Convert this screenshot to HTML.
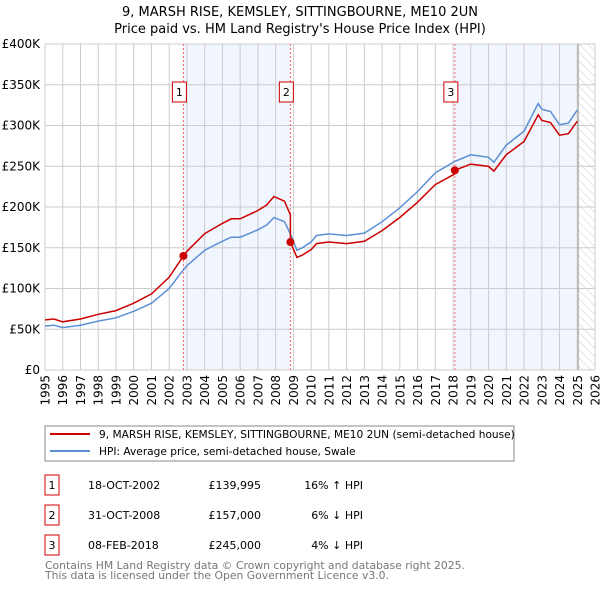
<!DOCTYPE html>
<html><head><meta charset="utf-8"><style>
body{margin:0;background:#fff}
svg text{font-family:"DejaVu Sans","Liberation Sans",sans-serif}
</style></head><body>
<svg id="chart" width="600" height="590" viewBox="0 0 600 590" xmlns="http://www.w3.org/2000/svg">
<defs><pattern id="hatch" width="6" height="6" patternUnits="userSpaceOnUse" patternTransform="rotate(-45)"><line x1="0" y1="0" x2="0" y2="6" stroke="#ccc" stroke-width="1"/></pattern></defs>
<text x="300" y="16" text-anchor="middle" font-size="13">9, MARSH RISE, KEMSLEY, SITTINGBOURNE, ME10 2UN</text>
<text x="300" y="33" text-anchor="middle" font-size="13">Price paid vs. HM Land Registry's House Price Index (HPI)</text>
<g id="plot"></g>
<rect x="45" y="426" width="469" height="35" fill="#fff" stroke="#888"/>
<line x1="50" y1="434" x2="90" y2="434" stroke="#cc0000" stroke-width="2"/>
<text x="99" y="438" font-size="10.6">9, MARSH RISE, KEMSLEY, SITTINGBOURNE, ME10 2UN (semi-detached house)</text>
<line x1="50" y1="451" x2="90" y2="451" stroke="#5b8fd6" stroke-width="2"/>
<text x="99" y="455" font-size="10.6">HPI: Average price, semi-detached house, Swale</text>
<g id="table" font-size="11"></g>
<text x="45" y="569" font-size="10.8" fill="#777">Contains HM Land Registry data © Crown copyright and database right 2025.</text>
<text x="45" y="579" font-size="10.8" fill="#777">This data is licensed under the Open Government Licence v3.0.</text>
</svg>
<script>
const hpiYears=[1995,1995.5,1996,1997,1998,1999,2000,2001,2002,2002.8,2003,2004,2005,2005.5,2006,2007,2007.5,2007.9,2008.5,2008.83,2009.2,2009.5,2010,2010.3,2011,2012,2013,2014,2015,2016,2017,2018.1,2019,2020,2020.3,2021,2022,2022.8,2023,2023.5,2024,2024.5,2025];
const hpiValues=[54000,55000,52000,55000,60000,64000,72000,82000,100000,123000,128000,147000,158000,163000,163000,172000,178000,187000,182000,167000,147000,150000,157000,165000,167000,165000,168000,182000,199000,219000,242000,256000,264000,261000,255000,276000,293000,327000,320000,317000,301000,303000,319000];
const saleDates=[2002.8,2008.83,2018.1];
const salePrices=[139995,157000,245000];
const saleLabels=["1","2","3"];
const saleDateText=["18-OCT-2002","31-OCT-2008","08-FEB-2018"];
const saleDiffText=["16% \u2191 HPI","6% \u2193 HPI","4% \u2193 HPI"];
const yTicks=[0,50000,100000,150000,200000,250000,300000,350000,400000];
const yTickLabels=["£0","£50K","£100K","£150K","£200K","£250K","£300K","£350K","£400K"];
const xTicks=[1995,1996,1997,1998,1999,2000,2001,2002,2003,2004,2005,2006,2007,2008,2009,2010,2011,2012,2013,2014,2015,2016,2017,2018,2019,2020,2021,2022,2023,2024,2025,2026];
const dataEnd=2025.05;

const NS="http://www.w3.org/2000/svg";
const L=45,R=595,T=44,B=370;
const xs=t=>L+(t-1995)/(2026-1995)*(R-L);
const ys=v=>B-v/400000*(B-T);
function mk(tag,attrs,parent){const e=document.createElementNS(NS,tag);for(const k in attrs)e.setAttribute(k,attrs[k]);parent.appendChild(e);return e;}
function hpiAt(t){for(let i=0;i<hpiYears.length-1;i++){if(t<=hpiYears[i+1]){const f=(t-hpiYears[i])/(hpiYears[i+1]-hpiYears[i]);return hpiValues[i]+f*(hpiValues[i+1]-hpiValues[i]);}}return hpiValues[hpiValues.length-1];}
const plot=document.getElementById('plot');
for(let i=0;i<saleDates.length;i++){
  const end=i+1<saleDates.length?saleDates[i+1]:dataEnd;
  if(i===1)continue;
  const r=mk('rect',{x:xs(saleDates[i]),y:T,width:xs(end)-xs(saleDates[i]),height:B-T,fill:'#eef3fc',opacity:0.8},plot);
  
  
}
const hr=mk('rect',{x:xs(dataEnd),y:T,width:R-xs(dataEnd),height:B-T,fill:'url(#hatch)'},plot);


yTicks.forEach((v,i)=>{
  const g=mk('line',{x1:L,x2:R,y1:ys(v),y2:ys(v),stroke:'#ccc'},plot);
  
  
  const t=mk('text',{x:40,y:ys(v)+4,'text-anchor':'end','font-size':12},plot);
  t.textContent=yTickLabels[i];
  
  
});
xTicks.forEach(yr=>{
  const g=mk('line',{x1:xs(yr),x2:xs(yr),y1:T,y2:B,stroke:'#ccc'},plot);
  
  
  const tx=xs(yr)+4.5,ty=375;
  const t=mk('text',{x:tx,y:ty,'text-anchor':'end','font-size':12,transform:'rotate(-90 '+tx+' '+ty+')'},plot);
  t.textContent=yr;
  
  
});
const el=mk('line',{x1:xs(dataEnd),x2:xs(dataEnd),y1:T,y2:B,stroke:'#999'},plot);


saleDates.forEach((d,i)=>{
  const v=mk('line',{x1:xs(d),x2:xs(d),y1:T,y2:B,stroke:'#e66','stroke-dasharray':'2,2'},plot);
  
  
});
let hp='';hpiYears.forEach((t,i)=>{hp+=(i?'L':'M')+xs(t).toFixed(1)+','+ys(hpiValues[i]).toFixed(1);});
const hl=mk('path',{d:hp,fill:'none',stroke:'#5b8fd6','stroke-width':1.5},plot);


function factor(t){let k=0;for(let i=0;i<saleDates.length;i++)if(t>=saleDates[i])k=i;return salePrices[k]/hpiAt(saleDates[k]);}
const pts=[];
hpiYears.forEach(t=>pts.push(t));
saleDates.forEach(d=>{pts.push(d-0.001);pts.push(d);});
pts.sort((a,b)=>a-b);
let rp='';pts.forEach((t,i)=>{rp+=(i?'L':'M')+xs(t).toFixed(1)+','+ys(hpiAt(t)*factor(t)).toFixed(1);});
const rl=mk('path',{d:rp,fill:'none',stroke:'#cc0000','stroke-width':1.5},plot);


saleDates.forEach((d,i)=>{
  const c=mk('circle',{cx:xs(d),cy:ys(salePrices[i]),r:4,fill:'#cc0000'},plot);
  
  
  const b=mk('rect',{x:xs(d)-11,y:82,width:14,height:20,fill:'#fff',stroke:'#c00'},plot);
  
  
  const t=mk('text',{x:xs(d)-4,y:96,'text-anchor':'middle','font-size':11},plot);
  t.textContent=saleLabels[i];
  
  
});
const tb=document.getElementById('table');
saleDates.forEach((d,i)=>{
  const y0=475+i*30;
  const b=mk('rect',{x:45,y:y0,width:14,height:20,fill:'#fff',stroke:'#c00'},tb);
  
  
  const cells=[[52,'middle',saleLabels[i]],[88,'start',saleDateText[i]],[261,'end','£'+salePrices[i].toLocaleString('en-GB')],[363,'end',saleDiffText[i]]];
  const names=['number','date','price','hpi-diff'];
  cells.forEach((c,j)=>{
    const t=mk('text',{x:c[0],y:y0+14,'text-anchor':c[1]},tb);
    t.textContent=c[2];
    
    
  });
});
</script>
</body></html>
